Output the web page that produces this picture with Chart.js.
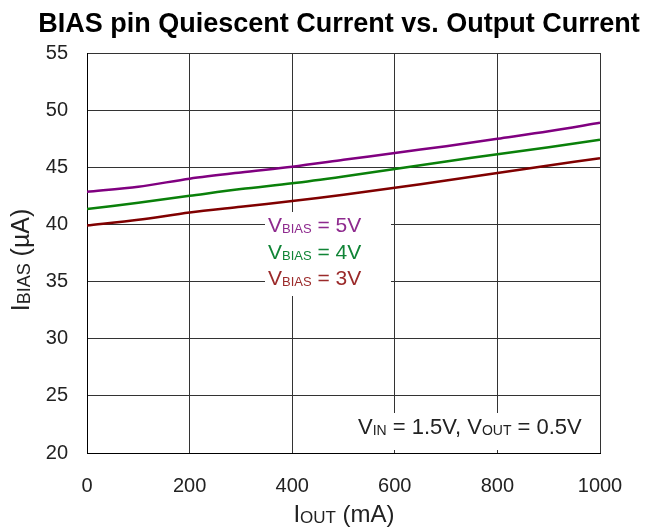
<!DOCTYPE html>
<html>
<head>
<meta charset="utf-8">
<script src="https://cdn.jsdelivr.net/npm/chart.js@4"></script>
<style>
  html, body { margin: 0; padding: 0; background: #fff; }
  #wrap { width: 646px; height: 529px; position: relative; }
</style>
</head>
<body>
<div id="wrap"><canvas id="biasChart" width="646" height="529"></canvas></div>
<script>
// Output current (mA) and quiescent current (uA) per VBIAS
const outputCurrent = [0, 100, 200, 300, 400, 500, 600, 700, 800, 900, 1000];
const bias5V = [42.85, 43.3, 44.0, 44.55, 45.05, 45.65, 46.25, 46.85, 47.5, 48.15, 48.9];
const bias4V = [41.35, 41.9, 42.5, 43.1, 43.6, 44.2, 44.85, 45.5, 46.15, 46.75, 47.4];
const bias3V = [39.9, 40.4, 41.05, 41.55, 42.05, 42.6, 43.2, 43.85, 44.5, 45.15, 45.8];
const xTicks = [0, 200, 400, 600, 800, 1000];
const yTicks = [20, 25, 30, 35, 40, 45, 50, 55];

const FONT = 'Arial, "Liberation Sans", sans-serif';

function toPoints(values) {
    return outputCurrent.map((x, i) => ({ x: x, y: values[i] }));
}

// text with subscript parts, size = main size, sub = subscript size
function drawSub(ctx, x, y, parts, size, sub, color) {
    ctx.fillStyle = color;
    ctx.textBaseline = 'alphabetic';
    ctx.textAlign = 'left';
    parts.forEach(p => {
        ctx.font = (p.sub ? sub : size) + 'px ' + FONT;
        ctx.fillText(p.t, x, y + (p.sub ? 1 : 0));
        x += ctx.measureText(p.t).width;
    });
    return x;
}

function measureSub(ctx, parts, size, sub) {
    let w = 0;
    parts.forEach(p => {
        ctx.font = (p.sub ? sub : size) + 'px ' + FONT;
        w += ctx.measureText(p.t).width;
    });
    return w;
}

const textPlugin = {
    id: 'textPlugin',
    afterDraw(chart) {
        const ctx = chart.ctx;
        ctx.save();

        // title
        ctx.fillStyle = '#000';
        ctx.font = 'bold 27px ' + FONT;
        ctx.textAlign = 'center';
        ctx.textBaseline = 'alphabetic';
        ctx.fillText('BIAS pin Quiescent Current vs. Output Current', 339, 32);

        // x axis title
        const xt = [{ t: 'I' }, { t: 'OUT', sub: true }, { t: ' (mA)' }];
        const xw = measureSub(ctx, xt, 24, 17);
        drawSub(ctx, 344 - xw / 2, 522, xt, 24, 17, '#222');

        // y axis title (rotated)
        ctx.save();
        ctx.translate(29, 260);
        ctx.rotate(-Math.PI / 2);
        const yt = [{ t: 'I' }, { t: 'BIAS', sub: true }, { t: ' (\u00b5A)' }];
        const yw = measureSub(ctx, yt, 25, 18);
        drawSub(ctx, -yw / 2, 0, yt, 25, 18, '#222');
        ctx.restore();

        // series labels box
        ctx.fillStyle = '#fff';
        ctx.fillRect(265, 212, 126, 84);
        const labels = [
            { v: '5V', c: '#8e2a8e', y: 232 },
            { v: '4V', c: '#108436', y: 259 },
            { v: '3V', c: '#9b2a2a', y: 285 }
        ];
        labels.forEach(l => {
            drawSub(ctx, 268, l.y, [{ t: 'V' }, { t: 'BIAS', sub: true }, { t: ' = ' + l.v }], 21, 13, l.c);
        });

        // condition note
        ctx.fillStyle = '#fff';
        ctx.fillRect(352, 413, 243, 37);
        drawSub(ctx, 358, 434, [{ t: 'V' }, { t: 'IN', sub: true }, { t: ' = 1.5V, V' }, { t: 'OUT', sub: true }, { t: ' = 0.5V' }], 22, 14, '#222');

        ctx.restore();
    }
};

const ctx = document.getElementById('biasChart').getContext('2d');

new Chart(ctx, {
    type: 'line',
    data: {
        datasets: [
            { label: 'VBIAS = 5V', data: toPoints(bias5V), borderColor: '#800080' },
            { label: 'VBIAS = 4V', data: toPoints(bias4V), borderColor: '#0a800a' },
            { label: 'VBIAS = 3V', data: toPoints(bias3V), borderColor: '#800000' }
        ].map(d => Object.assign(d, {
            borderWidth: 2.5,
            pointRadius: 0,
            fill: false,
            tension: 0.3
        }))
    },
    options: {
        responsive: false,
        animation: false,
        layout: {
            padding: { top: 53, right: 46, left: 0, bottom: 0 }
        },
        plugins: {
            legend: { display: false },
            tooltip: { enabled: false }
        },
        scales: {
            x: {
                type: 'linear',
                min: 0,
                max: 1000,
                afterBuildTicks: axis => { axis.ticks = xTicks.map(v => ({ value: v })); },
                afterFit: axis => { axis.height = 76; },
                grid: {
                    color: '#333',
                    lineWidth: 1,
                    drawTicks: false
                },
                border: { color: '#000' },
                ticks: {
                    padding: 21,
                    color: '#222',
                    font: { family: FONT, size: 20 },
                    maxRotation: 0,
                    callback: v => String(v)
                }
            },
            y: {
                min: 20,
                max: 55,
                afterBuildTicks: axis => { axis.ticks = yTicks.map(v => ({ value: v })); },
                afterFit: axis => { axis.width = 87; },
                grid: {
                    color: '#333',
                    lineWidth: 1,
                    drawTicks: false
                },
                border: { color: '#000' },
                ticks: {
                    padding: 19,
                    color: '#222',
                    font: { family: FONT, size: 20 }
                }
            }
        }
    },
    plugins: [textPlugin]
});
</script>
</body>
</html>
